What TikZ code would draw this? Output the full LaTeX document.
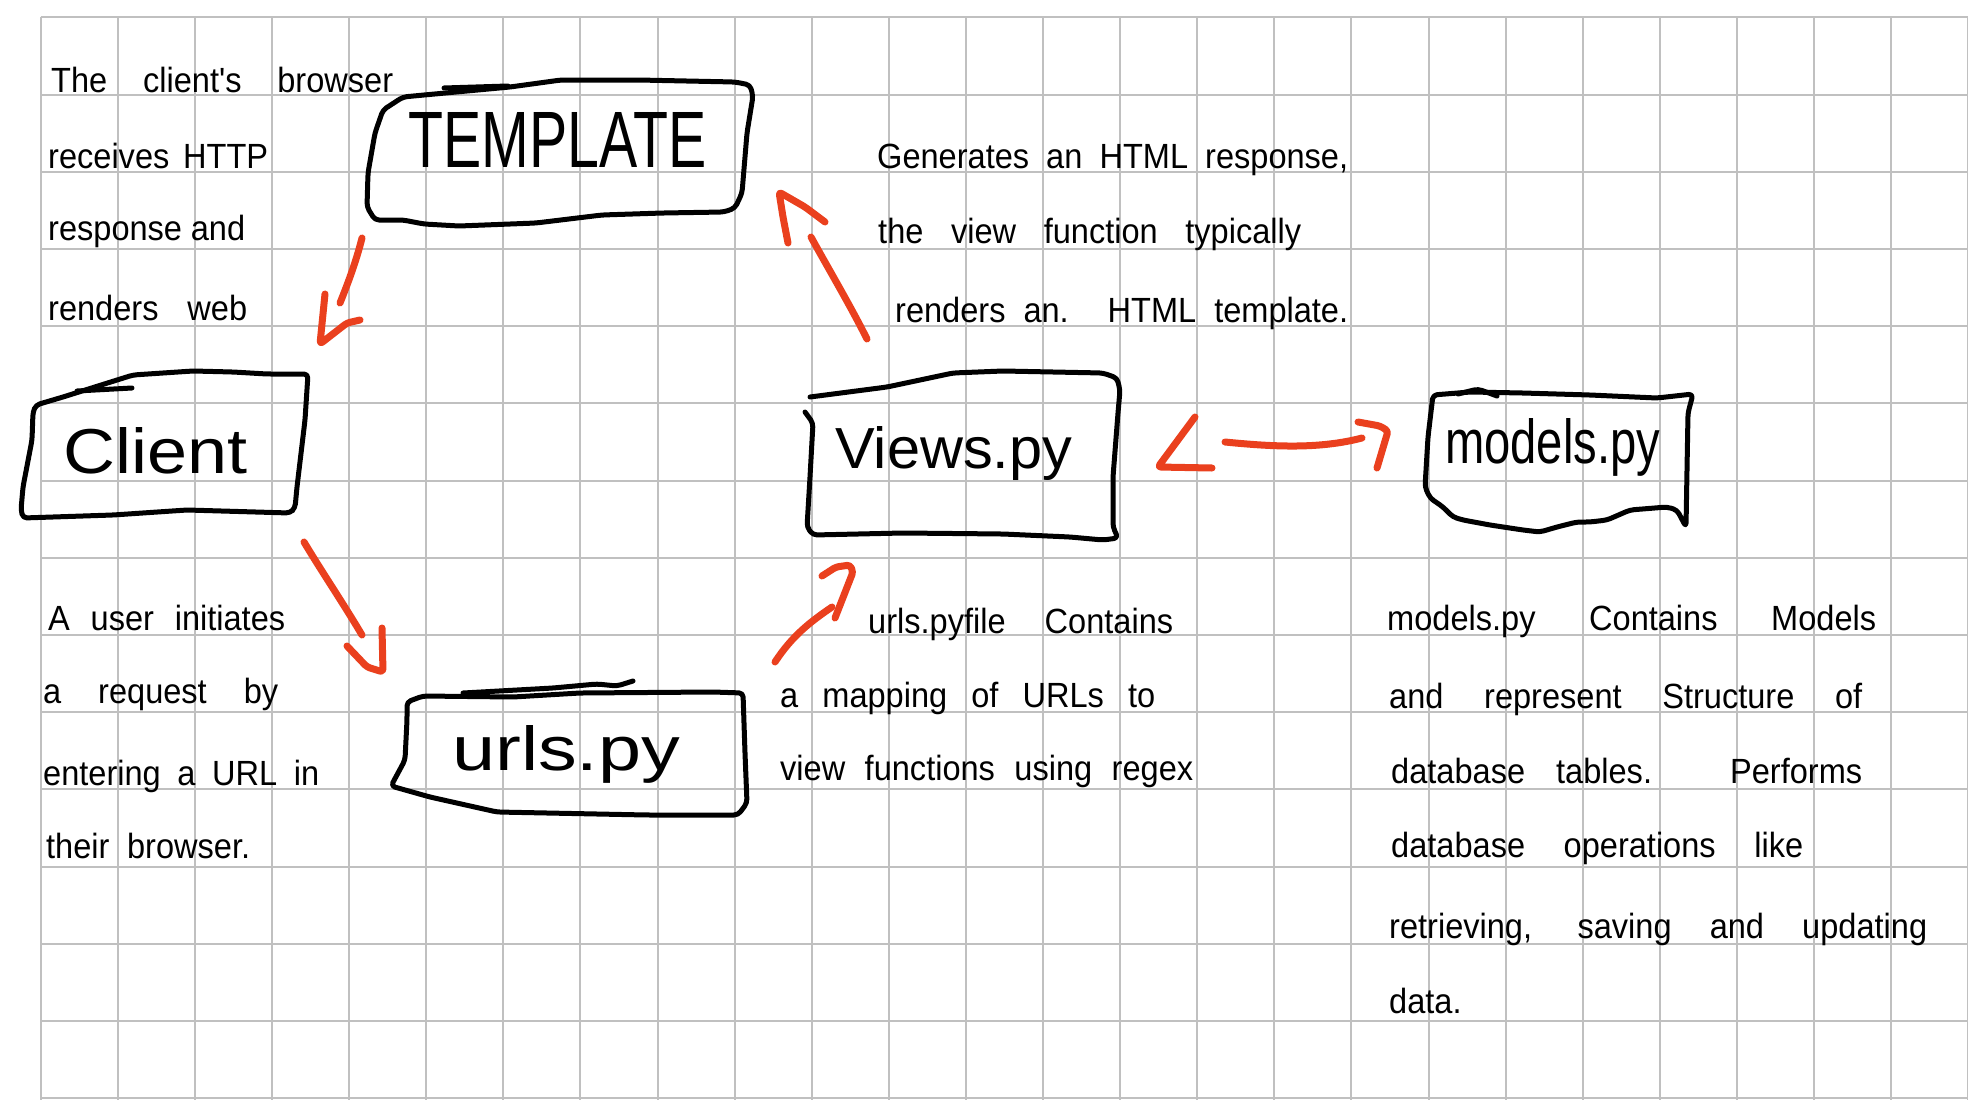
\documentclass[tikz,border=0pt]{standalone}
\usepackage{fontspec}
\usepackage{graphicx}
\usetikzlibrary{calc}

% handwriting-like text: narrow sans, fixed line lengths
\newfontfamily\handfont[FakeStretch=0.93]{Liberation Sans}
\newfontfamily\labelfont{Liberation Sans}

\definecolor{gridgray}{RGB}{192,192,192}
\definecolor{penred}{RGB}{234,64,30}

% a line of words spread to a given width (in pt)
\newcommand{\wline}[2]{\makebox[#1pt][s]{#2}}
% a box label scaled to a given width and cap height (in pt)
\newcommand{\blabel}[3]{\resizebox{#1pt}{#2pt}{#3}}

\begin{document}
\begin{tikzpicture}[x=1pt,y=-1pt,
  gridline/.style={draw=gridgray, line width=2pt},
  boxpen/.style={draw=black, line width=5pt, line cap=round, line join=round, rounded corners=4pt},
  arrowpen/.style={draw=penred, line width=7pt, line cap=round, line join=round, rounded corners=3pt},
  txt/.style={anchor=base west, inner sep=0pt, font=\handfont\fontsize{35}{42}\selectfont},
  lbl/.style={anchor=base west, inner sep=0pt, font=\labelfont\fontsize{60}{72}\selectfont}]

\useasboundingbox (0,0) rectangle (1968,1100);
\fill[white] (0,0) rectangle (1968,1100);

% squared paper
\foreach \k in {0,...,25}
  \draw[gridline] (40.7+77.1*\k,17.3) -- (40.7+77.1*\k,1100);
\foreach \j in {0,...,14}
  \draw[gridline] (40.7,17.3+77.2*\j) -- (1968,17.3+77.2*\j);

% ---------- boxes ----------
% TEMPLATE
\draw[boxpen] (383,110) -- (403,97) -- (424,95) -- (510,87) -- (561,80) -- (638,80)
  -- (735,82) -- (750,85) -- (753,96) -- (747,133) -- (742,193) -- (735,208) -- (724,212)
  -- (663,213) -- (602,215) -- (536,223) -- (459,226) -- (424,224) -- (403,220) -- (375,220)
  -- (367,207) -- (368,173) -- (375,133) -- cycle;
\draw[boxpen] (444,88) -- (508,86);
\node[lbl] (tpl) at (408,167) {\blabel{298}{55}{TEMPLATE}};

% Client
\draw[boxpen] (36,405) -- (63,397) -- (133,375) -- (193,371) -- (233,372) -- (267,374)
  -- (308,374) -- (305,420) -- (297,487) -- (295,508) -- (290,513) -- (187,510)
  -- (113,515) -- (23,518) -- (21,510) -- (23,487) -- (32,440) -- (33,412) -- cycle;
\draw[boxpen] (77,391) -- (132,388);
\node[lbl] (client) at (63,473) {\blabel{184}{46}{Client}};

% Views.py
\draw[boxpen] (805,412) -- (813,423) -- (810,477) -- (807,527) -- (813,535) -- (903,533)
  -- (1003,534) -- (1070,537) -- (1103,540) -- (1118,538) -- (1113,527) -- (1113,477)
  -- (1118,413) -- (1120,390) -- (1117,378) -- (1103,373) -- (1003,371) -- (953,373)
  -- (887,387) -- (810,397);
\node[lbl] (views) at (835,468) {\blabel{237}{42}{Views.py}};

% models.py
\draw[boxpen] (1433,395) -- (1470,392) -- (1523,393) -- (1590,395) -- (1657,398)
  -- (1693,394) -- (1688,413) -- (1687,470) -- (1686,527) -- (1677,510) -- (1667,507)
  -- (1630,510) -- (1607,520) -- (1590,522) -- (1577,522) -- (1557,527) -- (1540,532)
  -- (1523,530) -- (1490,525) -- (1463,520) -- (1453,517) -- (1443,507) -- (1430,498)
  -- (1425,487) -- (1428,437) -- cycle;
\draw[boxpen] (1458,394) -- (1478,389) -- (1497,396);
\node[lbl] (models) at (1445,463) {\blabel{215}{45}{models.py}};

% urls.py
\draw[boxpen] (407,702) -- (423,696) -- (513,697) -- (580,693) -- (713,692) -- (743,693)
  -- (745,753) -- (747,803) -- (738,815) -- (647,815) -- (547,813) -- (497,812)
  -- (430,797) -- (391,786) -- (405,760) -- (407,720) -- cycle;
\draw[boxpen] (463,693) -- (553,688) -- (597,684) -- (617,686) -- (633,681);
\node[lbl] (urls) at (452,770) {\blabel{228}{45}{urls.py}};

% ---------- connectors ----------
% TEMPLATE -> Client
\coordinate (a1s) at (362,238);
\coordinate (a1e) at (340,303);
\coordinate (a1t) at (320,344);
\draw[arrowpen] (a1s) .. controls (356,262) and (348,283) .. (a1e);
\draw[arrowpen] ($(a1t)+(5,-50)$) -- (a1t) -- ($(a1t)+(27,-21)$) -- ($(a1t)+(40,-24)$);

% Client -> urls.py
\coordinate (a2s) at (304,542);
\coordinate (a2e) at (362,635);
\coordinate (a2t) at (383,672);
\draw[arrowpen] (a2s) .. controls (322,572) and (343,603) .. (a2e);
\draw[arrowpen] ($(a2t)+(-36,-26)$) -- ($(a2t)+(-16,-5)$) -- (a2t) -- ($(a2t)+(-1,-44)$);

% Views.py -> TEMPLATE
\coordinate (a3s) at (867,339);
\coordinate (a3e) at (811,237);
\coordinate (a3t) at (779,192);
\draw[arrowpen] (a3s) .. controls (850,305) and (828,268) .. (a3e);
\draw[arrowpen] ($(a3t)+(9,51)$) -- ($(a3t)+(4,25)$) -- (a3t) -- ($(a3t)+(26,15)$) -- ($(a3t)+(46,30)$);

% urls.py -> Views.py
\coordinate (a4s) at (775,662);
\coordinate (a4e) at (832,607);
\coordinate (a4t) at (850,565);
\draw[arrowpen] (a4s) .. controls (792,636) and (810,622) .. (a4e);
\draw[arrowpen] ($(a4t)+(-28,11)$) -- ($(a4t)+(-14,2)$) -- (a4t) -- ($(a4t)+(3,7)$) -- ($(a4t)+(-15,53)$);

% Views.py <-> models.py
\coordinate (a5l) at (1158,467);
\coordinate (a5s) at (1225,442);
\coordinate (a5e) at (1362,438);
\coordinate (a5r) at (1388,431);
\draw[arrowpen] ($(a5l)+(37,-50)$) -- (a5l) -- ($(a5l)+(54,1)$);
\draw[arrowpen] (a5s) .. controls (1275,447) and (1320,449) .. (a5e);
\draw[arrowpen] ($(a5r)+(-30,-9)$) -- ($(a5r)+(-8,-5)$) -- (a5r) -- ($(a5r)+(-11,37)$);

% ---------- notes ----------
\node[txt] (n1a) at (51,92)  {\wline{342}{The client's browser}};
\node[txt] (n1b) at (48,168) {\wline{220}{receives HTTP}};
\node[txt] (n1c) at (48,240) {\wline{197}{response and}};
\node[txt] (n1d) at (48,320) {\wline{199}{renders web}};

\node[txt] (n2a) at (877,168) {\wline{471}{Generates an HTML response,}};
\node[txt] (n2b) at (878,243) {\wline{423}{the view function typically}};
\node[txt] (n2c) at (895,322) {\wline{453}{renders an. HTML template.}};

\node[txt] (n3a) at (48,630) {\wline{237}{A user initiates}};
\node[txt] (n3b) at (43,703) {\wline{235}{a request by}};
\node[txt] (n3c) at (43,785) {\wline{276}{entering a URL in}};
\node[txt] (n3d) at (46,858) {\wline{204}{their browser.}};

\node[txt] (n4a) at (868,633) {\wline{305}{urls.pyfile Contains}};
\node[txt] (n4b) at (780,707) {\wline{375}{a mapping of URLs to}};
\node[txt] (n4c) at (780,780) {\wline{413}{view functions using regex}};

\node[txt] (n5a) at (1387,630)  {\wline{489}{models.py Contains Models}};
\node[txt] (n5b) at (1389,708)  {\wline{473}{and represent Structure of}};
\node[txt] (n5c) at (1391,783)  {\wline{471}{database tables. Performs}};
\node[txt] (n5d) at (1391,857)  {\wline{412}{database operations like}};
\node[txt] (n5e) at (1389,938)  {\wline{538}{retrieving, saving and updating}};
\node[txt] (n5f) at (1389,1013) {data.};

\end{tikzpicture}
\end{document}
